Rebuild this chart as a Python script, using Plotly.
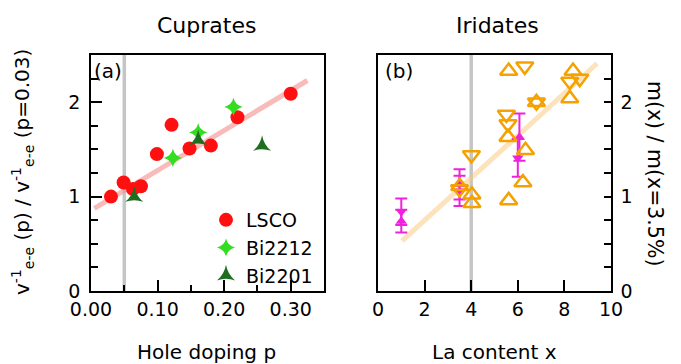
import plotly.graph_objects as go

# ---------------- data ----------------
lsco_p = [0.030, 0.049, 0.063, 0.075, 0.099, 0.121, 0.148, 0.180, 0.220, 0.300]
lsco_v = [1.00, 1.15, 1.08, 1.11, 1.45, 1.76, 1.51, 1.54, 1.84, 2.09]
bi2212_p = [0.123, 0.161, 0.214]
bi2212_v = [1.41, 1.68, 1.95]
bi2201_p = [0.065, 0.161, 0.257]
bi2201_v = [1.00, 1.60, 1.54]
cup_fit_p = [0.005, 0.325]
cup_fit_v = [0.875, 2.23]
cup_ref_p = 0.05

ir_up_x = [5.61, 8.37, 8.23, 6.80, 5.58, 6.33, 3.51, 4.03, 4.03, 6.22, 5.61]
ir_up_y = [2.33, 2.33, 2.04, 2.00, 1.63, 1.49, 1.11, 1.02, 0.93, 1.15, 0.96]
ir_dn_x = [6.30, 8.66, 8.23, 6.80, 5.51, 5.58, 4.01, 3.50]
ir_dn_y = [2.38, 2.25, 2.22, 2.00, 1.87, 1.77, 1.44, 1.08]
mg_up_x = [1.0, 3.5, 6.07]
mg_up_y = [0.74, 1.13, 1.63]
mg_up_err = [0.12, 0.16, 0.25]
mg_dn_x = [1.0, 3.5, 6.0]
mg_dn_y = [0.84, 1.06, 1.41]
mg_dn_err = [0.14, 0.16, 0.20]
ir_fit_x = [1.03, 9.4]
ir_fit_y = [0.53, 2.41]
ir_ref_x = 4.0

W, H = 681, 364
FONT = "DejaVu Sans"

fig = go.Figure()

# --- reference (vertical gray) lines
fig.add_trace(go.Scatter(x=[cup_ref_p, cup_ref_p], y=[0, 2.5], mode="lines",
                         line=dict(color="rgba(150,150,150,0.55)", width=3.5),
                         xaxis="x", yaxis="y", showlegend=False, hoverinfo="skip"))
fig.add_trace(go.Scatter(x=[ir_ref_x, ir_ref_x], y=[0, 2.5], mode="lines",
                         line=dict(color="rgba(150,150,150,0.55)", width=3.5),
                         xaxis="x2", yaxis="y2", showlegend=False, hoverinfo="skip"))

# --- fit lines
fig.add_trace(go.Scatter(x=cup_fit_p, y=cup_fit_v, mode="lines",
                         line=dict(color="rgba(245,140,140,0.6)", width=5),
                         xaxis="x", yaxis="y", showlegend=False))
fig.add_trace(go.Scatter(x=ir_fit_x, y=ir_fit_y, mode="lines",
                         line=dict(color="rgba(250,200,120,0.5)", width=5),
                         xaxis="x2", yaxis="y2", showlegend=False))

# --- cuprates
fig.add_trace(go.Scatter(x=lsco_p, y=lsco_v, mode="markers", name="LSCO",
                         marker=dict(symbol="circle", size=14, color="#ff1010"),
                         xaxis="x", yaxis="y"))
fig.add_trace(go.Scatter(x=bi2212_p, y=bi2212_v, mode="markers", name="Bi2212",
                         marker=dict(symbol="star-diamond", size=13, color="#33dd22"),
                         xaxis="x", yaxis="y"))
fig.add_trace(go.Scatter(x=bi2201_p, y=bi2201_v, mode="markers", name="Bi2201",
                         marker=dict(symbol="star-triangle-up", size=13, color="#1f6e1f"),
                         xaxis="x", yaxis="y"))

# --- iridates
fig.add_trace(go.Scatter(x=mg_up_x, y=mg_up_y, mode="markers",
                         error_y=dict(type="data", array=mg_up_err, color="#ee22dd",
                                      thickness=2, width=6),
                         marker=dict(symbol="triangle-up", size=10, color="#ee22dd"),
                         xaxis="x2", yaxis="y2", showlegend=False))
fig.add_trace(go.Scatter(x=mg_dn_x, y=mg_dn_y, mode="markers",
                         error_y=dict(type="data", array=mg_dn_err, color="#ee22dd",
                                      thickness=2, width=6),
                         marker=dict(symbol="triangle-down", size=10, color="#ee22dd"),
                         xaxis="x2", yaxis="y2", showlegend=False))
fig.add_trace(go.Scatter(x=ir_up_x, y=ir_up_y, mode="markers",
                         marker=dict(symbol="triangle-up-open", size=15,
                                     color="#f5a200", line=dict(width=2.5, color="#f5a200")),
                         xaxis="x2", yaxis="y2", showlegend=False))
fig.add_trace(go.Scatter(x=ir_dn_x, y=ir_dn_y, mode="markers",
                         marker=dict(symbol="triangle-down-open", size=15,
                                     color="#f5a200", line=dict(width=2.5, color="#f5a200")),
                         xaxis="x2", yaxis="y2", showlegend=False))

axis_common = dict(showline=True, linecolor="black", linewidth=1.5, mirror=True,
                   ticks="inside", tickcolor="black", tickwidth=1.5, showgrid=False,
                   zeroline=False, automargin=False,
                   tickfont=dict(family=FONT, size=19, color="black"))

def ann(text, xpx, ypx, size, angle=0):
    return dict(text=text, x=xpx / W, y=(H - ypx) / H, xref="paper", yref="paper",
                xanchor="center", yanchor="middle", showarrow=False,
                textangle=angle, font=dict(family=FONT, size=size, color="black"))

fig.update_layout(
    width=W, height=H, margin=dict(l=0, r=0, t=0, b=0, autoexpand=False),
    paper_bgcolor="white", plot_bgcolor="white",
    font=dict(family=FONT, color="black"),
    xaxis=dict(domain=[91 / W, 324 / W], range=[0, 0.35], dtick=0.1, tick0=0,
               tickformat=".2f", ticklen=11,
               minor=dict(dtick=0.05, tick0=0, ticks="inside", ticklen=6,
                          tickcolor="black", tickwidth=1.5),
               anchor="y", **axis_common),
    yaxis=dict(domain=[(H - 291) / H, (H - 55) / H], range=[0, 2.5], dtick=1,
               ticklen=11, ticklabelstandoff=5,
               minor=dict(dtick=0.25, ticks="inside", ticklen=7,
                          tickcolor="black", tickwidth=1.5),
               anchor="x", **axis_common),
    xaxis2=dict(domain=[378 / W, 611 / W], range=[0, 10], dtick=2, ticklen=11,
                anchor="y2", **axis_common),
    yaxis2=dict(domain=[(H - 291) / H, (H - 55) / H], range=[0, 2.5], dtick=1,
                side="right", ticklen=7, ticklabelstandoff=4,
                minor=dict(dtick=0.25, ticks="inside", ticklen=7,
                           tickcolor="black", tickwidth=1.5),
                anchor="x2", **axis_common),
    legend=dict(x=206 / W, y=(H - 201) / H, xanchor="left", yanchor="top",
                bgcolor="rgba(0,0,0,0)", font=dict(family=FONT, size=19),
                tracegroupgap=0, itemwidth=30),
    annotations=[
        ann("Cuprates", 206, 26, 22),
        ann("Iridates", 497, 26, 22),
        ann("Hole doping p", 207, 352, 20),
        ann("La content x", 494, 352, 20),
        ann("v<sup>-1</sup><sub>e-e</sub> (p) / v<sup>-1</sup><sub>e-e</sub> (p=0.03)",
            22, 172, 20, -90),
        ann("m(x) / m(x=3.5%)", 655, 173, 20.5, 90),
        ann("(a)", 108, 71, 20),
        ann("(b)", 399, 71, 20),
    ],
)

fig.write_html("out.html")
